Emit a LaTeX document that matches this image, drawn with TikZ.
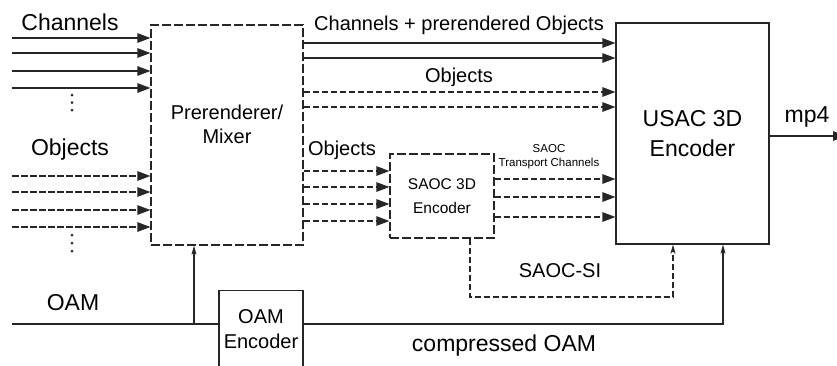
\documentclass[tikz,border=0pt]{standalone}
\usepackage{fontspec}
\setmainfont{Liberation Sans}
\usetikzlibrary{arrows.meta}
\definecolor{ink}{HTML}{262626}
\begin{document}
\begin{tikzpicture}[x=1pt,y=-1pt,
  wire/.style={draw=ink, line width=1.2pt},
  sig/.style={wire, -{Triangle[length=13pt,width=9.5pt]}},
  dsig/.style={sig, dash pattern=on 6.5pt off 2.5pt},
  ctl/.style={wire, -{Stealth[length=9pt,width=5pt,inset=2pt]}},
  dctl/.style={ctl, dash pattern=on 6.5pt off 2.5pt},
  block/.style={draw=ink, line width=1.2pt, inner sep=0pt, align=center},
  dblock/.style={block, dash pattern=on 9pt off 3pt},
  big/.style={font=\fontsize{23}{30}\selectfont, align=center},
  mid/.style={font=\fontsize{20}{24}\selectfont, align=center},
  small/.style={font=\fontsize{15.5}{23.4}\selectfont, align=center},
  tiny/.style={font=\fontsize{11.5}{14}\selectfont, align=center},
  dot/.style={fill=ink}
]
\useasboundingbox (0,0) rectangle (837,365);
\fill[white] (0,0) rectangle (837,365);
\clip (0,0) rectangle (837,365);

% processing blocks
\node[dblock, minimum width=152pt, minimum height=220pt] (pre) at (227,135) {};
\node[mid] (pretext) at ([yshift=11pt]pre.center) {Prerenderer/\\Mixer};
\node[dblock, small, minimum width=104pt, minimum height=84pt] (saoc) at (442,196) {SAOC 3D\\Encoder};
\node[block, big, minimum width=153pt, minimum height=221pt] (usac) at (692.5,133.5) {USAC 3D\\Encoder};
\node[block, minimum width=84pt, minimum height=120pt, anchor=north] (oamenc) at (261,290) {};
\node[mid, font=\fontsize{20}{25}\selectfont] (oamenctext) at (261,329) {OAM\\Encoder};

% labels
\node[big] (lchan) at (70,22) {Channels};
\node[big] (lobj) at (70,150) {Objects};
\node[big] (loam) at (73,303) {OAM};
\node[mid] (lcpo) at (459,25) {Channels + prerendered Objects};
\node[mid] (lobj2) at (459,77) {Objects};
\node[mid] (lobj3) at (342,150) {Objects};
\node[tiny] (lsaoctc) at (549,157) {SAOC\\Transport Channels};
\node[mid] (lsi) at (560,271) {SAOC-SI};
\node[big] (lcoam) at (504,346) {compressed OAM};
\node[big] (lmp4) at (807,117) {mp4};

% channel inputs
\foreach \y [count=\i] in {38,53,71,88}
  \draw[sig] (12,\y) coordinate (ch\i) -- (ch\i -| pre.west);
\foreach \y in {95,102.5,110}
  \fill[dot] (72,\y) circle (1.5pt);

% object inputs
\foreach \y [count=\i] in {176,192,210,227}
  \draw[dsig] (12,\y) coordinate (ob\i) -- (ob\i -| pre.west);
\foreach \y in {235,243,251}
  \fill[dot] (72,\y) circle (1.5pt);

% prerenderer to USAC encoder
\foreach \y [count=\i] in {43,58}
  \draw[sig] (pre.east |- 0,\y) coordinate (pc\i) -- (pc\i -| usac.west);
\foreach \y [count=\i] in {92,107}
  \draw[dsig] (pre.east |- 0,\y) coordinate (po\i) -- (po\i -| usac.west);

% prerenderer to SAOC encoder
\foreach \y [count=\i] in {171,187,204,221}
  \draw[dsig] (pre.east |- 0,\y) coordinate (ps\i) -- (ps\i -| saoc.west);

% SAOC transport channels
\foreach \y [count=\i] in {179,197,217}
  \draw[dsig] (saoc.east |- 0,\y) coordinate (st\i) -- (st\i -| usac.west);

% SAOC side info
\coordinate (siturn) at (673,297);
\draw[dctl] (saoc.south -| 470,0) |- (siturn) -- (siturn |- usac.south);

% object metadata
\coordinate (oamin) at (12,324);
\coordinate (oambr) at (194,324);
\draw[wire] (oamin) -- (oamin -| oamenc.west);
\draw[ctl] (oambr) -- (oambr |- pre.south);
\coordinate (coturn) at (723,324);
\draw[ctl] (oamenc.east |- oamin) -- (coturn) -- (coturn |- usac.south);

% bitstream output, running off the right edge
\coordinate (out) at (846,136);
\draw[sig] (usac.east |- out) -- (out);
\end{tikzpicture}
\end{document}
